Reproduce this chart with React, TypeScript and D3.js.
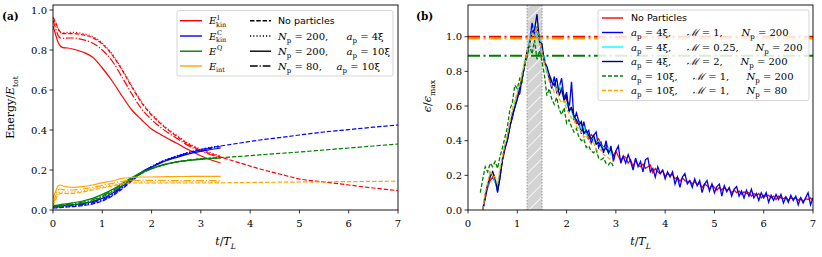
import * as d3 from 'd3';

const W = 822;
const H = 257;
const SERIF = '"DejaVu Serif", serif';
const SANS = '"DejaVu Sans", sans-serif';

// ---------- panel (a): energy fractions ----------
const tShort = [0, 0.05, 0.1, 0.15, 0.2, 0.3, 0.4, 0.6, 0.8, 1.0, 1.2, 1.4, 1.6, 1.8, 2.0, 2.2, 2.5, 2.8, 3.1, 3.4];
const tLong = [...tShort, 3.8, 4.2, 4.6, 5.0, 5.5, 6.0, 6.5, 7.0];

// E^I_kin
const kinINone = [0.965, 0.94, 0.91, 0.89, 0.882, 0.882, 0.882, 0.876, 0.862, 0.83, 0.775, 0.7, 0.615, 0.535, 0.475, 0.428, 0.37, 0.322, 0.29, 0.265, 0.235, 0.205, 0.18, 0.155, 0.14, 0.125, 0.11, 0.097];
const kinI200s = [0.96, 0.935, 0.905, 0.888, 0.886, 0.888, 0.888, 0.882, 0.868, 0.835, 0.78, 0.705, 0.62, 0.54, 0.48, 0.432, 0.375, 0.326, 0.295, 0.27];
const kinI200l = [0.92, 0.88, 0.84, 0.82, 0.812, 0.81, 0.805, 0.79, 0.765, 0.71, 0.645, 0.57, 0.5, 0.45, 0.405, 0.375, 0.335, 0.295, 0.26, 0.235];
const kinI80l = [0.95, 0.91, 0.875, 0.86, 0.858, 0.86, 0.86, 0.852, 0.835, 0.8, 0.745, 0.665, 0.58, 0.505, 0.452, 0.41, 0.36, 0.315, 0.285, 0.26];
// E^C_kin
const kinCNone = [0.01, 0.01, 0.011, 0.012, 0.013, 0.015, 0.017, 0.022, 0.03, 0.045, 0.07, 0.105, 0.145, 0.185, 0.215, 0.24, 0.268, 0.29, 0.307, 0.32, 0.335, 0.35, 0.362, 0.375, 0.39, 0.402, 0.414, 0.425];
const kinC200s = [0.012, 0.012, 0.013, 0.014, 0.015, 0.017, 0.019, 0.024, 0.032, 0.047, 0.072, 0.107, 0.148, 0.188, 0.218, 0.243, 0.27, 0.292, 0.309, 0.322];
const kinC200l = [0.018, 0.018, 0.019, 0.02, 0.021, 0.023, 0.026, 0.032, 0.042, 0.058, 0.083, 0.117, 0.155, 0.19, 0.215, 0.237, 0.262, 0.283, 0.298, 0.31];
const kinC80l = [0.015, 0.015, 0.016, 0.017, 0.018, 0.02, 0.022, 0.028, 0.037, 0.052, 0.077, 0.112, 0.15, 0.188, 0.216, 0.24, 0.266, 0.288, 0.304, 0.317];
// E^Q
const qNone = [0.015, 0.016, 0.017, 0.018, 0.02, 0.023, 0.026, 0.033, 0.045, 0.065, 0.09, 0.122, 0.155, 0.183, 0.205, 0.222, 0.24, 0.25, 0.257, 0.262, 0.268, 0.276, 0.283, 0.29, 0.3, 0.31, 0.32, 0.33];
const q200s = [0.016, 0.017, 0.018, 0.019, 0.021, 0.024, 0.027, 0.034, 0.046, 0.066, 0.091, 0.123, 0.156, 0.184, 0.206, 0.223, 0.241, 0.251, 0.258, 0.263];
const q200l = [0.022, 0.023, 0.025, 0.027, 0.029, 0.032, 0.036, 0.045, 0.058, 0.078, 0.102, 0.132, 0.162, 0.188, 0.208, 0.223, 0.239, 0.249, 0.256, 0.26];
const q80l = [0.019, 0.02, 0.021, 0.023, 0.025, 0.028, 0.031, 0.039, 0.051, 0.071, 0.096, 0.127, 0.159, 0.186, 0.207, 0.223, 0.24, 0.25, 0.257, 0.261];
// E_int
const intNone = [0.02, 0.05, 0.075, 0.082, 0.083, 0.082, 0.083, 0.09, 0.1, 0.11, 0.12, 0.13, 0.135, 0.135, 0.135, 0.135, 0.135, 0.135, 0.135, 0.136, 0.137, 0.138, 0.139, 0.14, 0.141, 0.142, 0.143, 0.144];
const int200s = [0.03, 0.06, 0.085, 0.09, 0.09, 0.09, 0.09, 0.095, 0.105, 0.115, 0.125, 0.135, 0.14, 0.14, 0.14, 0.14, 0.14, 0.14, 0.14, 0.14];
const int200l = [0.06, 0.09, 0.12, 0.125, 0.12, 0.115, 0.113, 0.117, 0.125, 0.137, 0.145, 0.158, 0.163, 0.165, 0.165, 0.166, 0.167, 0.168, 0.168, 0.168];
const int80l = [0.04, 0.07, 0.1, 0.105, 0.102, 0.1, 0.1, 0.105, 0.113, 0.123, 0.133, 0.143, 0.148, 0.148, 0.148, 0.148, 0.147, 0.147, 0.147, 0.147];

const energyColors = ['#ff0000', '#0000ff', '#008000', '#ffa500'];
const runStyles = ['4.4,1.9', '1.2,2', '', '7.7,1.9,1.2,1.9'];

// ---------- panel (b): dissipation rate ----------
const T0 = 0.3;
const DT = 0.05;
const T0_GREEN = 0.25;

const epsNone = [
  0.0, 0.07, 0.13, 0.17, 0.19, 0.16, 0.13, 0.21, 0.29, 0.35, 0.41, 0.48, 0.54, 0.6, 0.64, 0.7, 0.76, 0.84, 0.9, 0.97,
  1.02, 1.04, 1.02, 0.98, 0.93, 0.86, 0.8, 0.76, 0.74, 0.72, 0.7, 0.7, 0.68, 0.66,
  0.64, 0.59, 0.59, 0.54, 0.5, 0.51, 0.5, 0.45, 0.45, 0.41, 0.435, 0.42, 0.385, 0.41, 0.38, 0.36, 0.38, 0.34, 0.35, 0.31,
  0.34, 0.31, 0.285, 0.31, 0.305, 0.27, 0.29, 0.25, 0.29, 0.26, 0.25, 0.265, 0.24, 0.25, 0.26, 0.215, 0.24, 0.22, 0.21, 0.23,
  0.195, 0.21, 0.2, 0.205, 0.18, 0.19, 0.165, 0.185, 0.17, 0.16, 0.17, 0.15, 0.165, 0.145, 0.155, 0.13, 0.15, 0.14, 0.12, 0.145,
  0.13, 0.115, 0.13, 0.115, 0.13, 0.115, 0.12, 0.1, 0.115, 0.1, 0.11, 0.09, 0.105, 0.095, 0.1, 0.08, 0.095, 0.085, 0.095, 0.07,
  0.085, 0.08, 0.085, 0.07, 0.08, 0.06, 0.08, 0.07, 0.065, 0.075, 0.055, 0.07, 0.065, 0.07, 0.055, 0.07, 0.05, 0.065, 0.06, 0.07,
  0.055,
];
const epsA4M1 = [
  0.0, 0.09, 0.14, 0.2, 0.22, 0.18, 0.1, 0.19, 0.3, 0.36, 0.41, 0.49, 0.53, 0.6, 0.66, 0.67, 0.77, 0.84, 0.91, 0.97,
  1.08, 1.01, 1.05, 0.99, 0.9, 0.87, 0.81, 0.76, 0.7, 0.77, 0.68, 0.71, 0.76, 0.64,
  0.68, 0.57, 0.74, 0.52, 0.56, 0.51, 0.44, 0.51, 0.44, 0.46, 0.38, 0.43, 0.45, 0.36, 0.39, 0.33, 0.4, 0.33, 0.37, 0.28,
  0.34, 0.37, 0.27, 0.31, 0.27, 0.32, 0.28, 0.23, 0.3, 0.25, 0.28, 0.22, 0.29, 0.3, 0.22, 0.24, 0.19, 0.25, 0.21, 0.23,
  0.18, 0.22, 0.19, 0.22, 0.15, 0.19, 0.13, 0.19, 0.21, 0.15, 0.17, 0.13, 0.18, 0.14, 0.17, 0.1, 0.15, 0.17, 0.11, 0.15,
  0.1, 0.135, 0.15, 0.08, 0.14, 0.105, 0.13, 0.08, 0.12, 0.135, 0.08, 0.11, 0.07, 0.115, 0.08, 0.12, 0.07, 0.095, 0.055, 0.1,
  0.07, 0.1, 0.045, 0.085, 0.055, 0.09, 0.06, 0.09, 0.04, 0.075, 0.045, 0.085, 0.055, 0.08, 0.03, 0.07, 0.04, 0.07, 0.1, 0.03,
  0.07,
];
const epsA4M025 = [0.0, 0.09, 0.14, 0.2, 0.21, 0.16, 0.12, 0.23, 0.3, 0.37, 0.42, 0.5, 0.55, 0.62, 0.65, 0.72, 0.77, 0.86, 0.9, 0.99, 1.03, 1.06, 1.0, 1.01, 0.9, 0.89, 0.8, 0.78, 0.75, 0.72, 0.69, 0.72, 0.68, 0.64, 0.61, 0.6, 0.57, 0.53, 0.52, 0.5, 0.47, 0.48, 0.44, 0.43, 0.41, 0.42, 0.38, 0.4, 0.37, 0.36, 0.35, 0.36, 0.32, 0.33];
const epsA4M2 = [0.0, 0.07, 0.15, 0.19, 0.22, 0.18, 0.11, 0.19, 0.29, 0.36, 0.4, 0.48, 0.55, 0.59, 0.64, 0.71, 0.76, 0.83, 0.92, 0.96, 1.03, 1.04, 1.13, 0.97, 0.96, 0.85, 0.83, 0.78, 0.74, 0.72, 0.76, 0.66, 0.7, 0.63, 0.66, 0.57, 0.59, 0.54, 0.52, 0.49, 0.51, 0.44, 0.46, 0.43, 0.41, 0.43, 0.38, 0.39, 0.37, 0.34, 0.36, 0.33, 0.35, 0.31];
const epsA10N200 = [0.1, 0.18, 0.25, 0.22, 0.27, 0.25, 0.28, 0.24, 0.31, 0.36, 0.42, 0.48, 0.58, 0.62, 0.72, 0.7, 0.76, 0.74, 0.85, 0.88, 0.95, 0.9, 0.98, 0.87, 0.92, 0.86, 0.78, 0.66, 0.7, 0.64, 0.61, 0.65, 0.58, 0.55, 0.59, 0.5, 0.52, 0.48, 0.45, 0.47, 0.42, 0.4, 0.41, 0.36, 0.37, 0.34, 0.33, 0.35, 0.3, 0.29, 0.3, 0.27, 0.26, 0.28, 0.25];
const epsA10N80 = [0.0, 0.1, 0.16, 0.23, 0.2, 0.19, 0.15, 0.24, 0.31, 0.38, 0.44, 0.51, 0.58, 0.63, 0.68, 0.72, 0.8, 0.84, 0.92, 0.96, 1.02, 1.0, 1.05, 0.97, 0.92, 0.84, 0.8, 0.74, 0.72, 0.68, 0.7, 0.64, 0.62, 0.63, 0.58, 0.56, 0.53, 0.52, 0.48, 0.47, 0.45, 0.42, 0.43, 0.4, 0.38, 0.39, 0.35, 0.34, 0.35, 0.32, 0.31, 0.3, 0.29, 0.28];

// time-averaged levels (dash-dot horizontals)
const meanNone = 1.0;
const meanA10N80 = 0.99;
const meanA10N200 = 0.89;
// hatched window
const windowT = [1.2, 1.5];

const xTicks = [0, 1, 2, 3, 4, 5, 6, 7];
const yTicks = [0, 0.2, 0.4, 0.6, 0.8, 1.0];

type Part = { s: string; it?: boolean; sub?: boolean; sup?: boolean };

function MathText({
  x,
  y,
  parts,
  size = 10,
  anchor = 'start',
  transform,
}: {
  x: number;
  y: number;
  parts: Part[];
  size?: number;
  anchor?: string;
  transform?: string;
}) {
  let shift = 0;
  const spans = parts.map((p, i) => {
    const target = p.sub ? size * 0.32 : p.sup ? -size * 0.4 : 0;
    const dy = target - shift;
    shift = target;
    return (
      <tspan
        key={i}
        dy={dy}
        fontStyle={p.it ? 'italic' : 'normal'}
        fontSize={p.sub || p.sup ? size * 0.7 : size}
      >
        {p.s}
      </tspan>
    );
  });
  return (
    <text
      x={x}
      y={y}
      textAnchor={anchor}
      fontFamily={SERIF}
      fontSize={size}
      transform={transform}
      style={{ whiteSpace: 'pre' }}
    >
      {spans}
    </text>
  );
}

function Frame({
  x,
  y,
  x0,
  y0,
  x1,
  y1,
}: {
  x: d3.ScaleLinear<number, number>;
  y: d3.ScaleLinear<number, number>;
  x0: number;
  y0: number;
  x1: number;
  y1: number;
}) {
  return (
    <g>
      <rect x={x0} y={y0} width={x1 - x0} height={y1 - y0} fill="none" stroke="#000" strokeWidth={0.9} />
      {xTicks.map((t) => (
        <g key={'x' + t}>
          <line x1={x(t)} x2={x(t)} y1={y1} y2={y1 + 3.5} stroke="#000" strokeWidth={0.8} />
          <text x={x(t)} y={y1 + 17} textAnchor="middle" fontFamily={SERIF} fontSize={10}>
            {t}
          </text>
        </g>
      ))}
      {yTicks.map((t) => (
        <g key={'y' + t}>
          <line x1={x0 - 3.5} x2={x0} y1={y(t)} y2={y(t)} stroke="#000" strokeWidth={0.8} />
          <text x={x0 - 6} y={y(t) + 3.6} textAnchor="end" fontFamily={SERIF} fontSize={10}>
            {d3.format('.1f')(t)}
          </text>
        </g>
      ))}
      <MathText
        x={(x0 + x1) / 2}
        y={245}
        anchor="middle"
        size={11}
        parts={[{ s: 't', it: true }, { s: '/' }, { s: 'T', it: true }, { s: 'L', it: true, sub: true }]}
      />
    </g>
  );
}

export default function App() {
  // panel (a)
  const aL = 53, aR = 398, aT = 5, aB = 210;
  const xa = d3.scaleLinear().domain([0, 7]).range([aL, aR]);
  const ya = d3.scaleLinear().domain([0, 1.025]).range([aB, aT]);
  const lineA = (ts: number[], vs: number[]) =>
    d3.line<number>().x((_, i) => xa(ts[i])).y((v) => ya(v)).curve(d3.curveMonotoneX)(vs) || '';

  const energies = [
    [kinINone, kinI200s, kinI200l, kinI80l],
    [kinCNone, kinC200s, kinC200l, kinC80l],
    [qNone, q200s, q200l, q80l],
    [intNone, int200s, int200l, int80l],
  ];

  // panel (b)
  const bL = 468, bR = 813, bT = 5, bB = 210;
  const xb = d3.scaleLinear().domain([0, 7]).range([bL, bR]);
  const yb = d3.scaleLinear().domain([0, 1.183]).range([bB, bT]);
  const lineB = (start: number, vs: number[]) =>
    d3.line<number>().x((_, i) => xb(start + i * DT)).y((v) => yb(v))(vs) || '';

  const epsSeries = [
    { v: epsNone, c: '#ff0000', d: '', s: T0 },
    { v: epsA4M1, c: '#0000ff', d: '', s: T0 },
    { v: epsA4M025, c: '#00ffff', d: '', s: T0 },
    { v: epsA4M2, c: '#000080', d: '', s: T0 },
    { v: epsA10N200, c: '#008000', d: '4,2', s: T0_GREEN },
    { v: epsA10N80, c: '#ffa500', d: '4,2', s: T0 },
  ];
  const means = [
    { v: meanNone, c: '#ff0000' },
    { v: meanA10N80, c: '#ffa500' },
    { v: meanA10N200, c: '#008000' },
  ];

  const legA1 = [
    { sup: 'I', sub: 'kin' },
    { sup: 'C', sub: 'kin' },
    { sup: 'Q', sub: '' },
    { sup: '', sub: 'int' },
  ];
  const legRows = [20.7, 36, 51.2, 66];
  const legB = [
    { c: '#ff0000', d: '' },
    { c: '#0000ff', d: '' },
    { c: '#00ffff', d: '' },
    { c: '#000080', d: '' },
    { c: '#008000', d: '4,2' },
    { c: '#ffa500', d: '4,2' },
  ];
  const legBRows = [18, 32.5, 47, 61.5, 76, 90.5];
  const aP = (n: string): Part[] => [{ s: 'a', it: true }, { s: 'p', sub: true }, { s: ' = ' + n }];
  const nP = (n: string): Part[] => [{ s: 'N', it: true }, { s: 'p', sub: true }, { s: ' = ' + n }];
  const mP = (n: string): Part[] => [{ s: 'ℳ', it: true }, { s: ' = ' + n }];

  return (
    <svg
      width={W}
      height={H}
      style={{ position: 'absolute', left: 0, top: 0, background: '#fff' }}
    >
      <defs>
        <pattern id="hatch" width={9} height={9} patternUnits="userSpaceOnUse" patternTransform="rotate(45)">
          <rect width={9} height={9} fill="#d3d3d3" />
          <line x1={0} y1={0} x2={0} y2={9} stroke="#fff" strokeWidth={1.6} />
        </pattern>
        <clipPath id="clipA">
          <rect x={aL} y={aT} width={aR - aL} height={aB - aT} />
        </clipPath>
        <clipPath id="clipB">
          <rect x={bL} y={bT} width={bR - bL} height={bB - bT} />
        </clipPath>
      </defs>

      {/* ---------------- panel (a) ---------------- */}
      <g clipPath="url(#clipA)">
        {energies.map((runs, ei) =>
          runs.map((vs, ri) => (
            <path
              key={ei + '-' + ri}
              d={lineA(ri === 0 ? tLong : tShort, vs)}
              fill="none"
              stroke={energyColors[ei]}
              strokeWidth={1.2}
              strokeDasharray={runStyles[ri]}
            />
          ))
        )}
      </g>
      <Frame x={xa} y={ya} x0={aL} y0={aT} x1={aR} y1={aB} />
      <MathText
        x={0}
        y={0}
        size={11}
        anchor="middle"
        transform={`translate(14,${(aT + aB) / 2}) rotate(-90)`}
        parts={[{ s: 'Energy' }, { s: '/' }, { s: 'E', it: true }, { s: 'tot', sub: true }]}
      />
      <text x={2} y={20} fontFamily={SERIF} fontWeight="bold" fontSize={10.5}>
        (a)
      </text>

      {/* legend (a) */}
      <rect x={177} y={10.5} width={216} height={65.5} rx={2} fill="#fff" fillOpacity={0.85} stroke="#cccccc" strokeWidth={0.8} />
      {legA1.map((l, i) => (
        <g key={'la' + i}>
          <line x1={180} x2={202} y1={legRows[i]} y2={legRows[i]} stroke={energyColors[i]} strokeWidth={1.4} />
          <text x={209} y={legRows[i] + 3.5} fontFamily={SERIF} fontStyle="italic" fontSize={10}>
            E
          </text>
          {l.sup && (
            <text x={217} y={legRows[i] - 1} fontFamily={SERIF} fontSize={6.5}>
              {l.sup}
            </text>
          )}
          {l.sub && (
            <text x={216} y={legRows[i] + 6} fontFamily={SERIF} fontSize={6.5}>
              {l.sub}
            </text>
          )}
        </g>
      ))}
      {runStyles.map((ds, i) => (
        <line key={'ls' + i} x1={250} x2={271} y1={legRows[i]} y2={legRows[i]} stroke="#000" strokeWidth={1.4} strokeDasharray={ds} />
      ))}
      <text x={278} y={legRows[0] + 3.3} fontFamily={SANS} fontSize={9.5}>
        No particles
      </text>
      <MathText x={278} y={legRows[1] + 3.5} size={10} parts={nP('200,')} />
      <MathText x={346.5} y={legRows[1] + 3.5} size={10} parts={aP('4ξ')} />
      <MathText x={278} y={legRows[2] + 3.5} size={10} parts={nP('200,')} />
      <MathText x={346.5} y={legRows[2] + 3.5} size={10} parts={aP('10ξ')} />
      <MathText x={278} y={legRows[3] + 3.5} size={10} parts={nP('80,')} />
      <MathText x={336.5} y={legRows[3] + 3.5} size={10} parts={aP('10ξ')} />

      {/* ---------------- panel (b) ---------------- */}
      <g clipPath="url(#clipB)">
        <rect
          x={xb(windowT[0])}
          y={bT}
          width={xb(windowT[1]) - xb(windowT[0])}
          height={bB - bT}
          fill="url(#hatch)"
        />
        {windowT.map((t) => (
          <line key={'w' + t} x1={xb(t)} x2={xb(t)} y1={bT} y2={bB} stroke="#b0b0b0" strokeWidth={1.5} strokeDasharray="1.5,1.5" />
        ))}
        {means.map((m) => (
          <line key={'m' + m.v} x1={bL} x2={bR} y1={yb(m.v)} y2={yb(m.v)} stroke={m.c} strokeWidth={2} strokeDasharray="12,3.5,2,3.5" />
        ))}
        {epsSeries.map((s, i) => (
          <path key={'e' + i} d={lineB(s.s, s.v)} fill="none" stroke={s.c} strokeWidth={1.3} strokeDasharray={s.d} />
        ))}
      </g>
      <Frame x={xb} y={yb} x0={bL} y0={bT} x1={bR} y1={bB} />
      <MathText
        x={0}
        y={0}
        size={11}
        anchor="middle"
        transform={`translate(431,96) rotate(-90)`}
        parts={[{ s: 'ϵ', it: true }, { s: '/' }, { s: 'ϵ', it: true }, { s: 'max', sub: true }]}
      />
      <text x={416} y={20} fontFamily={SERIF} fontWeight="bold" fontSize={10.5}>
        (b)
      </text>

      {/* legend (b) */}
      <rect x={598} y={10} width={211} height={90.5} rx={2} fill="#fff" fillOpacity={0.85} stroke="#cccccc" strokeWidth={0.8} />
      {legB.map((l, i) => (
        <line key={'lb' + i} x1={602} x2={623} y1={legBRows[i]} y2={legBRows[i]} stroke={l.c} strokeWidth={1.4} strokeDasharray={l.d} />
      ))}
      <text x={631} y={legBRows[0] + 3.3} fontFamily={SANS} fontSize={9.5}>
        No Particles
      </text>
      <MathText x={631} y={legBRows[1] + 3.5} parts={aP('4ξ,')} />
      <MathText x={686.5} y={legBRows[1] + 3.5} parts={mP('1,')} />
      <MathText x={741.5} y={legBRows[1] + 3.5} parts={nP('200')} />
      <MathText x={631} y={legBRows[2] + 3.5} parts={aP('4ξ,')} />
      <MathText x={686.5} y={legBRows[2] + 3.5} parts={mP('0.25,')} />
      <MathText x={755.5} y={legBRows[2] + 3.5} parts={nP('200')} />
      <MathText x={631} y={legBRows[3] + 3.5} parts={aP('4ξ,')} />
      <MathText x={686.5} y={legBRows[3] + 3.5} parts={mP('2,')} />
      <MathText x={740.5} y={legBRows[3] + 3.5} parts={nP('200')} />
      <MathText x={631} y={legBRows[4] + 3.5} parts={aP('10ξ,')} />
      <MathText x={693} y={legBRows[4] + 3.5} parts={mP('1,')} />
      <MathText x={746.5} y={legBRows[4] + 3.5} parts={nP('200')} />
      <MathText x={631} y={legBRows[5] + 3.5} parts={aP('10ξ,')} />
      <MathText x={693} y={legBRows[5] + 3.5} parts={mP('1,')} />
      <MathText x={746.5} y={legBRows[5] + 3.5} parts={nP('80')} />
    </svg>
  );
}
